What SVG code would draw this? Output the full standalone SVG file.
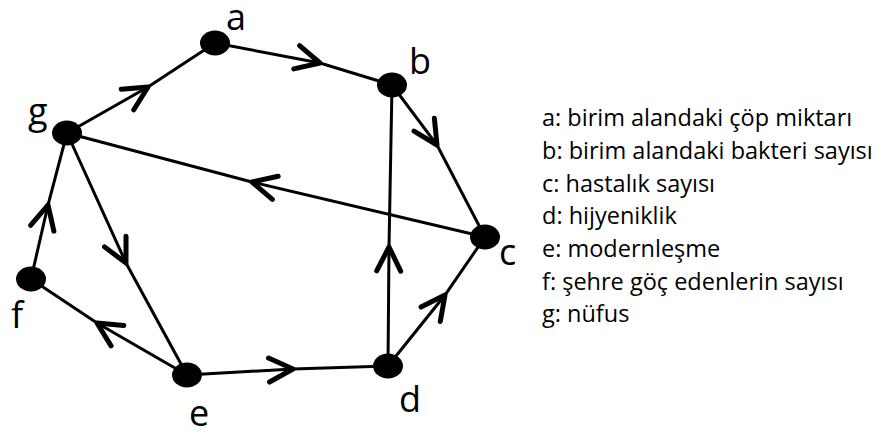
<svg xmlns="http://www.w3.org/2000/svg" width="887" height="436" viewBox="0 0 887 436">
<style>
.edge{fill:none;stroke:#000;stroke-width:3;marker-mid:url(#chev)}
.node{fill:#000}
.lbl{font-family:"Open Sans","Liberation Sans",sans-serif;font-size:36px;fill:#000}
.leg{font-family:"Open Sans","Liberation Sans",sans-serif;font-size:23.5px;fill:#000}
</style>
<defs>
<marker id="chev" markerUnits="userSpaceOnUse" markerWidth="40" markerHeight="40" viewBox="-30 -20 40 40" refX="0" refY="0" orient="auto" overflow="visible">
<path d="M -24 -12 L 0 0 L -24 12" fill="none" stroke="#000" stroke-width="5" stroke-linecap="round" stroke-linejoin="round"/>
</marker>
</defs>
<g id="connectors">
<path class="edge" d="M 67 133 L 148 87 L 215 43"/>
<path class="edge" d="M 215 43 L 320 63 L 392 85"/>
<path class="edge" d="M 392 85 L 437 145 L 485 237"/>
<path class="edge" d="M 485 237 L 252 182 L 67 133"/>
<path class="edge" d="M 388 366 L 389 247 L 392 85"/>
<path class="edge" d="M 388 366 L 445 295 L 485 237"/>
<path class="edge" d="M 187 375 L 293 369 L 388 366"/>
<path class="edge" d="M 187 375 L 97 323 L 31 279"/>
<path class="edge" d="M 31 279 L 48 205 L 67 133"/>
<path class="edge" d="M 67 133 L 126 263 L 187 375"/>
</g>
<g id="node-a"><ellipse class="node" cx="215" cy="43" rx="15" ry="12.5"/><text class="lbl" x="226" y="30">a</text></g>
<g id="node-b"><ellipse class="node" cx="392" cy="85" rx="15" ry="12.5"/><text class="lbl" x="409" y="74">b</text></g>
<g id="node-c"><ellipse class="node" cx="485" cy="237" rx="15" ry="12.5"/><text class="lbl" x="499" y="265">c</text></g>
<g id="node-d"><ellipse class="node" cx="388" cy="366" rx="15" ry="12.5"/><text class="lbl" x="399" y="412">d</text></g>
<g id="node-e"><ellipse class="node" cx="187" cy="375" rx="15" ry="12.5"/><text class="lbl" x="189" y="426">e</text></g>
<g id="node-f"><ellipse class="node" cx="31" cy="279" rx="15" ry="12.5"/><text class="lbl" x="11" y="328">f</text></g>
<g id="node-g"><ellipse class="node" cx="67" cy="133" rx="15" ry="12.5"/><text class="lbl" x="28" y="124">g</text></g>
<g id="legend">
<text class="leg" x="542" y="126">a: birim alandaki çöp miktarı</text>
<text class="leg" x="542" y="159">b: birim alandaki bakteri sayısı</text>
<text class="leg" x="542" y="192">c: hastalık sayısı</text>
<text class="leg" x="542" y="224">d: hijyeniklik</text>
<text class="leg" x="542" y="257">e: modernleşme</text>
<text class="leg" x="542" y="290">f: şehre göç edenlerin sayısı</text>
<text class="leg" x="542" y="322">g: nüfus</text>
</g>
</svg>
